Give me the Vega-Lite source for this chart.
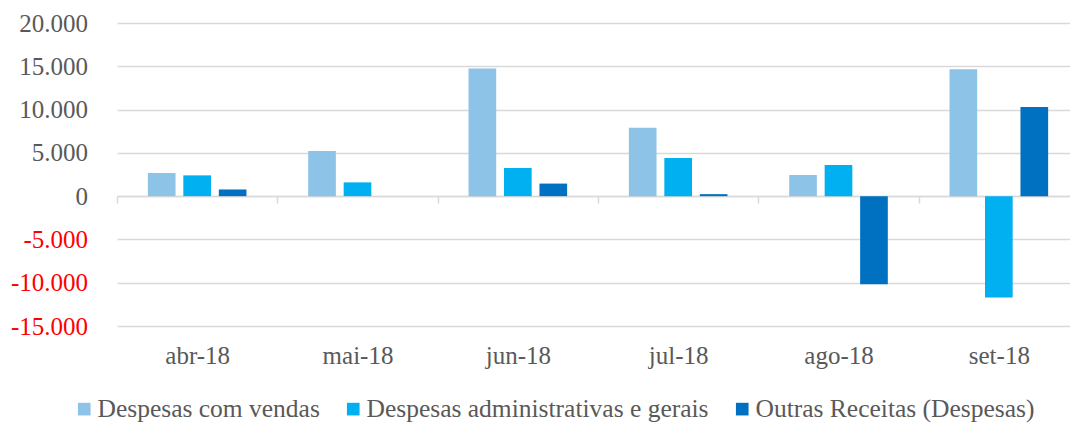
{
  "$schema": "https://vega.github.io/schema/vega-lite/v6.json",
  "width": 962,
  "height": 303,
  "autosize": {"type": "none"},
  "padding": {"left": 117, "top": 23, "right": -9, "bottom": 97},
  "data": {
    "values": [
      {"mes": "abr-18", "serie": "Despesas com vendas", "valor": 2670},
      {"mes": "abr-18", "serie": "Despesas administrativas e gerais", "valor": 2400},
      {"mes": "abr-18", "serie": "Outras Receitas (Despesas)", "valor": 770},
      {"mes": "mai-18", "serie": "Despesas com vendas", "valor": 5220},
      {"mes": "mai-18", "serie": "Despesas administrativas e gerais", "valor": 1590},
      {"mes": "mai-18", "serie": "Outras Receitas (Despesas)", "valor": 0},
      {"mes": "jun-18", "serie": "Despesas com vendas", "valor": 14740},
      {"mes": "jun-18", "serie": "Despesas administrativas e gerais", "valor": 3250},
      {"mes": "jun-18", "serie": "Outras Receitas (Despesas)", "valor": 1450},
      {"mes": "jul-18", "serie": "Despesas com vendas", "valor": 7890},
      {"mes": "jul-18", "serie": "Despesas administrativas e gerais", "valor": 4410},
      {"mes": "jul-18", "serie": "Outras Receitas (Despesas)", "valor": 230},
      {"mes": "ago-18", "serie": "Despesas com vendas", "valor": 2440},
      {"mes": "ago-18", "serie": "Despesas administrativas e gerais", "valor": 3600},
      {"mes": "ago-18", "serie": "Outras Receitas (Despesas)", "valor": -10190},
      {"mes": "set-18", "serie": "Despesas com vendas", "valor": 14660},
      {"mes": "set-18", "serie": "Despesas administrativas e gerais", "valor": -11700},
      {"mes": "set-18", "serie": "Outras Receitas (Despesas)", "valor": 10290}
    ]
  },
  "mark": {"type": "bar"},
  "encoding": {
    "x": {
      "field": "mes",
      "type": "nominal",
      "sort": ["abr-18", "mai-18", "jun-18", "jul-18", "ago-18", "set-18"],
      "scale": {"paddingInner": 0, "paddingOuter": 0},
      "axis": {
        "title": null,
        "labelAngle": 0,
        "offset": -130,
        "grid": false,
        "domainColor": "#d9d9d9",
        "domainWidth": 1.5,
        "tickColor": "#d9d9d9",
        "tickWidth": 1.5,
        "tickSize": 7,
        "tickBand": "extent",
        "labelPadding": 140,
        "labelFont": "Liberation Serif",
        "labelFontSize": 25,
        "labelColor": "#595959"
      }
    },
    "xOffset": {
      "field": "serie",
      "type": "nominal",
      "sort": ["Despesas com vendas", "Despesas administrativas e gerais", "Outras Receitas (Despesas)"],
      "scale": {"paddingInner": 0.22, "paddingOuter": 0.87}
    },
    "y": {
      "field": "valor",
      "type": "quantitative",
      "scale": {"domain": [-15000, 20000], "nice": false, "zero": false},
      "axis": {
        "title": null,
        "values": [-15000, -10000, -5000, 0, 5000, 10000, 15000, 20000],
        "format": ",.0f",
        "domain": false,
        "ticks": false,
        "labelPadding": 29.5,
        "gridColor": "#d9d9d9",
        "gridWidth": 1.5,
        "labelFont": "Liberation Serif",
        "labelFontSize": 25,
        "labelColor": {"condition": {"test": "datum.value < 0", "value": "#ff0000"}, "value": "#595959"}
      }
    },
    "color": {
      "field": "serie",
      "type": "nominal",
      "sort": ["Despesas com vendas", "Despesas administrativas e gerais", "Outras Receitas (Despesas)"],
      "scale": {
        "domain": ["Despesas com vendas", "Despesas administrativas e gerais", "Outras Receitas (Despesas)"],
        "range": ["#8DC3E6", "#00B0F0", "#0070C0"]
      },
      "legend": {
        "title": null,
        "orient": "none",
        "legendX": -45.5,
        "legendY": 373,
        "direction": "horizontal",
        "symbolType": "square",
        "symbolSize": 160,
        "symbolStrokeWidth": 0,
        "labelFont": "Liberation Serif",
        "labelFontSize": 25.5,
        "labelColor": "#595959",
        "labelOffset": 0.5,
        "labelLimit": 600,
        "columnPadding": 20,
        "padding": 0
      }
    }
  },
  "config": {
    "locale": {"number": {"decimal": ",", "thousands": ".", "grouping": [3], "currency": ["", ""], "minus": "-"}},
    "view": {"stroke": null}
  }
}
